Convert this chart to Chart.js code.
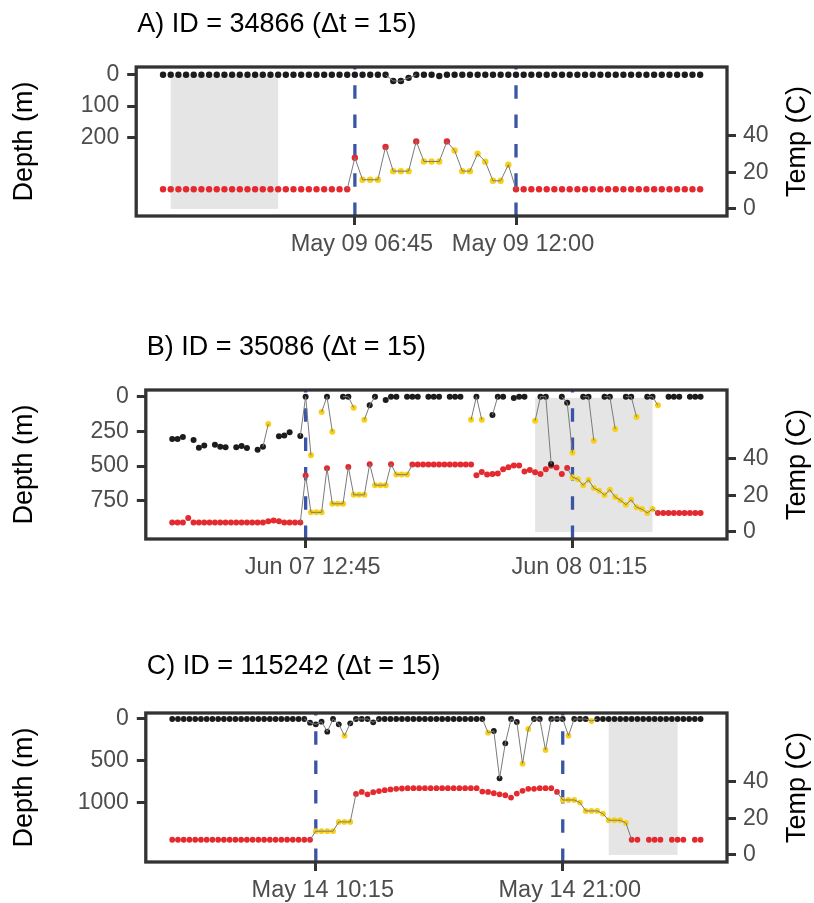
<!DOCTYPE html>
<html>
<head>
<meta charset="utf-8">
<script src="https://cdn.jsdelivr.net/npm/chart.js@4.4.1/dist/chart.umd.min.js"></script>
<style>
  body { margin: 0; background: #fff; }
  #wrap { position: relative; width: 814px; height: 903px; overflow: hidden; }
  canvas { position: absolute; left: 0; }
</style>
</head>
<body>
<div id="wrap">
  <canvas id="panelA" width="814" height="323" style="top:0px"></canvas>
  <canvas id="panelB" width="814" height="323" style="top:323px"></canvas>
  <canvas id="panelC" width="814" height="257" style="top:646px"></canvas>
</div>
<script>
// ---- data (15 min steps, index = step number) ----
// A) ID 34866
const A_DEPTH = [0,0,0,0,0,0,0,0,0,0, 0,0,0,0,0,0,0,0,0,0, 0,0,0,0,0,0,0,0,0,0,
  20,20,10,0,0,0,4,0,0,0, 0,0,0,0,0,0,0,0,0,0, 0,0,0,0,0,0,0,0,0,0, 0,0,0,0,0,0,0,0,0,0, 0];
const A_TEMP = [10.8,10.8,10.8,10.8,10.8,10.8,10.8,10.8,10.8,10.8,
  10.8,10.8,10.8,10.8,10.8,10.8,10.8,10.8,10.8,10.8,
  10.8,10.8,10.8,10.8,10.8,28,16,16,16,34,
  20.7,20.7,20.7,37,26,26,26,37,32,20.7,
  20.7,30.3,25.9,15.4,15.4,24.2,10.8,10.8,10.8,10.8,
  10.8,10.8,10.8,10.8,10.8,10.8,10.8,10.8,10.8,10.8,
  10.8,10.8,10.8,10.8,10.8,10.8,10.8,10.8,10.8,10.8, 10.8];
const A_DEPTH_FLAG = [];
const A_TEMP_FLAG = [26,27,28,30,31,32,34,35,36,38,39,40,41,42,43,44,45];
const A_DEPTH_PATH = [[29,33]];
const A_TEMP_PATH = [[24,46]];
const A_SHADE = [1, 15];
const A_EVENTS = [25, 46];
const A_EVENT_LABELS = ['May 09 06:45', 'May 09 12:00'];
const A_DEPTH_TICKS = [0, 100, 200];

// B) ID 35086
const B_DEPTH = [305,305,290,null,312,368,351,null,346,360,
  365,null,365,355,370,null,382,360,197,null,
  286,279,257,null,283,0,423,null,110,0,
  252,null,0,0,79,null,166,62,0,null,
  24,0,0,null,0,0,0,null,0,0,
  0,null,0,0,0,null,166,0,166,null,
  132,0,0,null,10,0,0,null,173,0,
  0,485,null,0,43,404,null,0,0,317,
  null,0,0,233,null,0,0,146,null,0,
  0,62,null,0,0,0,null,0,0,0];
const B_TEMP = [5.2,5.2,5.2,7.6,5.2,5.2,5.2,5.2,5.2,5.2,
  5.2,5.2,5.2,5.2,5.2,5.2,5.2,5.2,5.8,6.3,
  5.8,5.2,5.2,5.2,5.2,30.9,10.7,10.7,10.7,34.9,
  15.4,15.4,15.4,35.6,20.3,20.3,20.3,37.1,25.6,25.6,
  25.6,37.1,31.4,31.4,31.4,36.9,36.9,36.9,36.9,36.9,
  36.9,36.9,36.9,36.9,36.9,36.9,36.9,31.1,32.9,31.4,
  31.8,32,34.4,35.5,36.4,36.4,33.1,34,32.7,31.8,
  34.4,36.2,35.3,31.8,35,30,28.9,25.6,28.5,24,
  22.5,20.2,23.1,19.1,17.3,14.9,17.6,13.5,12.5,10.4,
  12.5,10.4,10.4,10.4,10.4,10.4,10.4,10.4,10.4,10.4];
const B_DEPTH_FLAG = [18,26,28,30,34,36,56,58,68,75,79,83,87,91];
const B_TEMP_FLAG = [26,27,28,30,31,32,34,35,36,38,39,40,42,43,44,
  75,76,77,78,79,80,81,82,83,84,85,86,87,88,89,90];
const B_DEPTH_PATH = [[17,18],[24,38],[56,61],[68,91]];
const B_TEMP_PATH = [[24,45],[74,91]];
const B_SHADE = [68, 90];
const B_EVENTS = [25, 75];
const B_EVENT_LABELS = ['Jun 07 12:45', 'Jun 08 01:15'];
const B_DEPTH_TICKS = [0, 250, 500, 750];

// C) ID 115242
const C_DEPTH = [0,0,0,0,0,0,0,0,0,0, 0,0,0,0,0,0,0,0,0,0,
  0,0,0,0,44,64,32,152,0,64,
  200,52,0,0,0,40,0,0,0,0,
  0,0,0,0,0,0,0,0,0,0,
  0,0,0,0,0,164,144,712,292,0,
  36,536,120,0,0,372,0,0,0,200,
  0,0,0,24,0,0,0,0,0,0,
  0,0,0,0,0,0,0,0,0,0, 0,0,0];
const C_TEMP = [8.3,8.3,8.3,8.3,8.3,8.3,8.3,8.3,8.3,8.3,
  8.3,8.3,8.3,8.3,8.3,8.3,8.3,8.3,8.3,8.3,
  8.3,8.3,8.3,8.3,8.3,13,13,13,13,18.1,
  18.1,18.1,33.4,34.5,33.2,34.4,35,35.5,35.9,36.2,
  36.4,36.6,36.6,36.6,36.6,36.6,36.6,36.6,36.6,36.6,
  36.6,36.6,36.6,36.6,34.7,34.5,33.8,33.2,32.7,31.4,
  33.6,35.1,36.2,36.2,36.6,36.6,36.6,34.5,30.1,30.1,
  30.1,28.7,24.1,24.1,24.1,22.6,19,19,19,17.5,
  8.3,8.3,null,8.3,8.3,8.3,null,8.3,8.3,8.3,
  null,8.3,8.3];
const C_DEPTH_FLAG = [30,55,61,62,65,69,73];
const C_TEMP_FLAG = [25,26,27,28,29,30,31,68,69,70,71,72,73,74,75,76,77,78,79];
const C_DEPTH_PATH = [[23,36],[54,74]];
const C_TEMP_PATH = [[24,32],[67,80]];
const C_SHADE = [76, 88];
const C_EVENTS = [25, 68];
const C_EVENT_LABELS = ['May 14 10:15', 'May 14 21:00'];
const C_DEPTH_TICKS = [0, 500, 1000];

const TEMP_TICKS = [0, 20, 40];

// ---- styling ----
Chart.defaults.font.family = "'Liberation Sans', Arial, Helvetica, sans-serif";
const INK = '#333333';
const TICK_TXT = '#4d4d4d';
const PATH = '#7a7a7a';
const DEPTH_COL = '#1c1c1c';
const TEMP_COL = '#e42a2f';
const FLAG_COL = '#f8d117';
const EVENT_COL = '#3b54a5';
const SHADE_COL = '#e5e5e5';
const SHADE_TOP = 73.5;
const LABEL_FONT = "27px 'Liberation Sans', Arial, sans-serif";
const XTICK_FONT = "23.5px 'Liberation Sans', Arial, sans-serif";

function inPath(ranges, a, b) {
  return ranges.some(r => a >= r[0] && b <= r[1]);
}

function decoPlugin(p) {
  return {
    id: 'deco',
    beforeDatasetsDraw(chart) {
      const { ctx, chartArea: a, scales } = chart;
      ctx.save();
      const x0 = scales.x.getPixelForValue(p.shade[0]);
      const x1 = scales.x.getPixelForValue(p.shade[1]);
      const y0 = scales.yT.getPixelForValue(SHADE_TOP);
      const y1 = scales.yT.getPixelForValue(0);
      ctx.fillStyle = SHADE_COL;
      ctx.fillRect(x0, y0, x1 - x0, y1 - y0);
      ctx.strokeStyle = EVENT_COL;
      ctx.lineWidth = 3.3;
      ctx.setLineDash([13.5, 15.8]);
      p.events.forEach(v => {
        const x = scales.x.getPixelForValue(v);
        ctx.beginPath();
        ctx.moveTo(x, a.bottom);
        ctx.lineTo(x, a.top);
        ctx.stroke();
      });
      ctx.restore();
    },
    afterDatasetsDraw(chart) {
      const { ctx, chartArea: a } = chart;
      ctx.save();
      ctx.strokeStyle = INK;
      ctx.lineWidth = 3.3;
      ctx.strokeRect(a.left, a.top, a.right - a.left, a.bottom - a.top);
      ctx.restore();
    },
    afterDraw(chart) {
      const { ctx, chartArea: a, scales } = chart;
      const mid = (a.top + a.bottom) / 2;
      // x tick labels (sit a little right of their ticks, as in the source figure)
      ctx.save();
      ctx.fillStyle = TICK_TXT;
      ctx.font = XTICK_FONT;
      ctx.textAlign = 'center';
      ctx.textBaseline = 'alphabetic';
      p.events.forEach((v, k) => {
        ctx.fillText(p.eventLabels[k], scales.x.getPixelForValue(v) + 7, a.bottom + 34.7);
      });
      ctx.restore();
      ctx.save();
      ctx.fillStyle = '#000';
      ctx.font = LABEL_FONT;
      ctx.textBaseline = 'alphabetic';
      ctx.textAlign = 'left';
      ctx.fillText(p.title, a.left + 1, p.titleY);
      ctx.textAlign = 'center';
      ctx.translate(32, mid);
      ctx.rotate(-Math.PI / 2);
      ctx.fillText('Depth (m)', 0, 0);
      ctx.restore();
      ctx.save();
      ctx.fillStyle = '#000';
      ctx.font = LABEL_FONT;
      ctx.textAlign = 'center';
      ctx.textBaseline = 'alphabetic';
      ctx.translate(805, mid);
      ctx.rotate(-Math.PI / 2);
      ctx.fillText('Temp (C)', 0, 0);
      ctx.restore();
    }
  };
}

function makePanel(id, p) {
  const canvas = document.getElementById(id);
  const H = canvas.height;
  const pts = arr => arr.map((v, i) => ({ x: i, y: v }));
  const colors = (arr, flags, base) => arr.map((v, i) => flags.includes(i) ? FLAG_COL : base);
  const tickGrid = { drawOnChartArea: false, drawTicks: true, tickLength: 9, lineWidth: 3, color: INK };
  const tickFont = { size: 23 };

  new Chart(canvas, {
    type: 'line',
    data: {
      datasets: [
        { data: pts(p.depth), yAxisID: 'yD', order: 0, pointRadius: 0, borderWidth: 1,
          borderColor: PATH, spanGaps: false,
          segment: { borderColor: c => inPath(p.depthPath, c.p0DataIndex, c.p1DataIndex) ? PATH : 'rgba(0,0,0,0)' } },
        { data: pts(p.temp), yAxisID: 'yT', order: 0, pointRadius: 0, borderWidth: 1,
          borderColor: PATH, spanGaps: false,
          segment: { borderColor: c => inPath(p.tempPath, c.p0DataIndex, c.p1DataIndex) ? PATH : 'rgba(0,0,0,0)' } },
        { data: pts(p.depth), yAxisID: 'yD', order: 1, showLine: false, pointRadius: p.r,
          pointBorderWidth: 0, pointBackgroundColor: colors(p.depth, p.depthFlag, DEPTH_COL) },
        { data: pts(p.temp), yAxisID: 'yT', order: 1, showLine: false, pointRadius: p.r,
          pointBorderWidth: 0, pointBackgroundColor: colors(p.temp, p.tempFlag, TEMP_COL) }
      ]
    },
    options: {
      responsive: false,
      animation: false,
      events: [],
      layout: { padding: { top: 67, left: 0, right: 0, bottom: 0 } },
      plugins: { legend: { display: false }, tooltip: { enabled: false }, title: { display: false } },
      scales: {
        x: {
          type: 'linear', min: p.xMin, max: p.xMax,
          afterBuildTicks: s => { s.ticks = p.events.map(v => ({ value: v })); },
          afterFit: s => { s.height = H - 216; },
          ticks: { display: false },
          grid: tickGrid, border: { display: false }
        },
        yD: {
          type: 'linear', position: 'left', reverse: true, min: p.dMin, max: p.dMax,
          afterBuildTicks: s => { s.ticks = p.depthTicks.map(v => ({ value: v })); },
          afterFit: s => { s.width = p.left; },
          ticks: { padding: 8, color: TICK_TXT, font: tickFont, callback: v => String(v) },
          grid: tickGrid, border: { display: false }
        },
        yT: {
          type: 'linear', position: 'right', min: -3.9, max: 77.8,
          afterBuildTicks: s => { s.ticks = TEMP_TICKS.map(v => ({ value: v })); },
          afterFit: s => { s.width = 87; },
          ticks: { padding: 7, color: TICK_TXT, font: tickFont, callback: v => String(v) },
          grid: tickGrid, border: { display: false }
        }
      }
    },
    plugins: [decoPlugin(p)]
  });
}

makePanel('panelA', {
  title: 'A) ID = 34866 (\u0394t = 15)', titleY: 32,
  depth: A_DEPTH, temp: A_TEMP, depthFlag: A_DEPTH_FLAG, tempFlag: A_TEMP_FLAG,
  depthPath: A_DEPTH_PATH, tempPath: A_TEMP_PATH, shade: A_SHADE,
  events: A_EVENTS, eventLabels: A_EVENT_LABELS, depthTicks: A_DEPTH_TICKS,
  xMin: -3.5, xMax: 73.5, dMin: -24.6, dMax: 451.4, left: 136.2, r: 3.2
});
makePanel('panelB', {
  title: 'B) ID = 35086 (\u0394t = 15)', titleY: 32,
  depth: B_DEPTH, temp: B_TEMP, depthFlag: B_DEPTH_FLAG, tempFlag: B_TEMP_FLAG,
  depthPath: B_DEPTH_PATH, tempPath: B_TEMP_PATH, shade: B_SHADE,
  events: B_EVENTS, eventLabels: B_EVENT_LABELS, depthTicks: B_DEPTH_TICKS,
  xMin: -4.95, xMax: 103.95, dMin: -48.3, dMax: 1026, left: 145.8, r: 3.0
});
makePanel('panelC', {
  title: 'C) ID = 115242 (\u0394t = 15)', titleY: 28,
  depth: C_DEPTH, temp: C_TEMP, depthFlag: C_DEPTH_FLAG, tempFlag: C_TEMP_FLAG,
  depthPath: C_DEPTH_PATH, tempPath: C_TEMP_PATH, shade: C_SHADE,
  events: C_EVENTS, eventLabels: C_EVENT_LABELS, depthTicks: C_DEPTH_TICKS,
  xMin: -4.6, xMax: 96.6, dMin: -72, dMax: 1716.7, left: 145.8, r: 2.9
});
</script>
</body>
</html>
